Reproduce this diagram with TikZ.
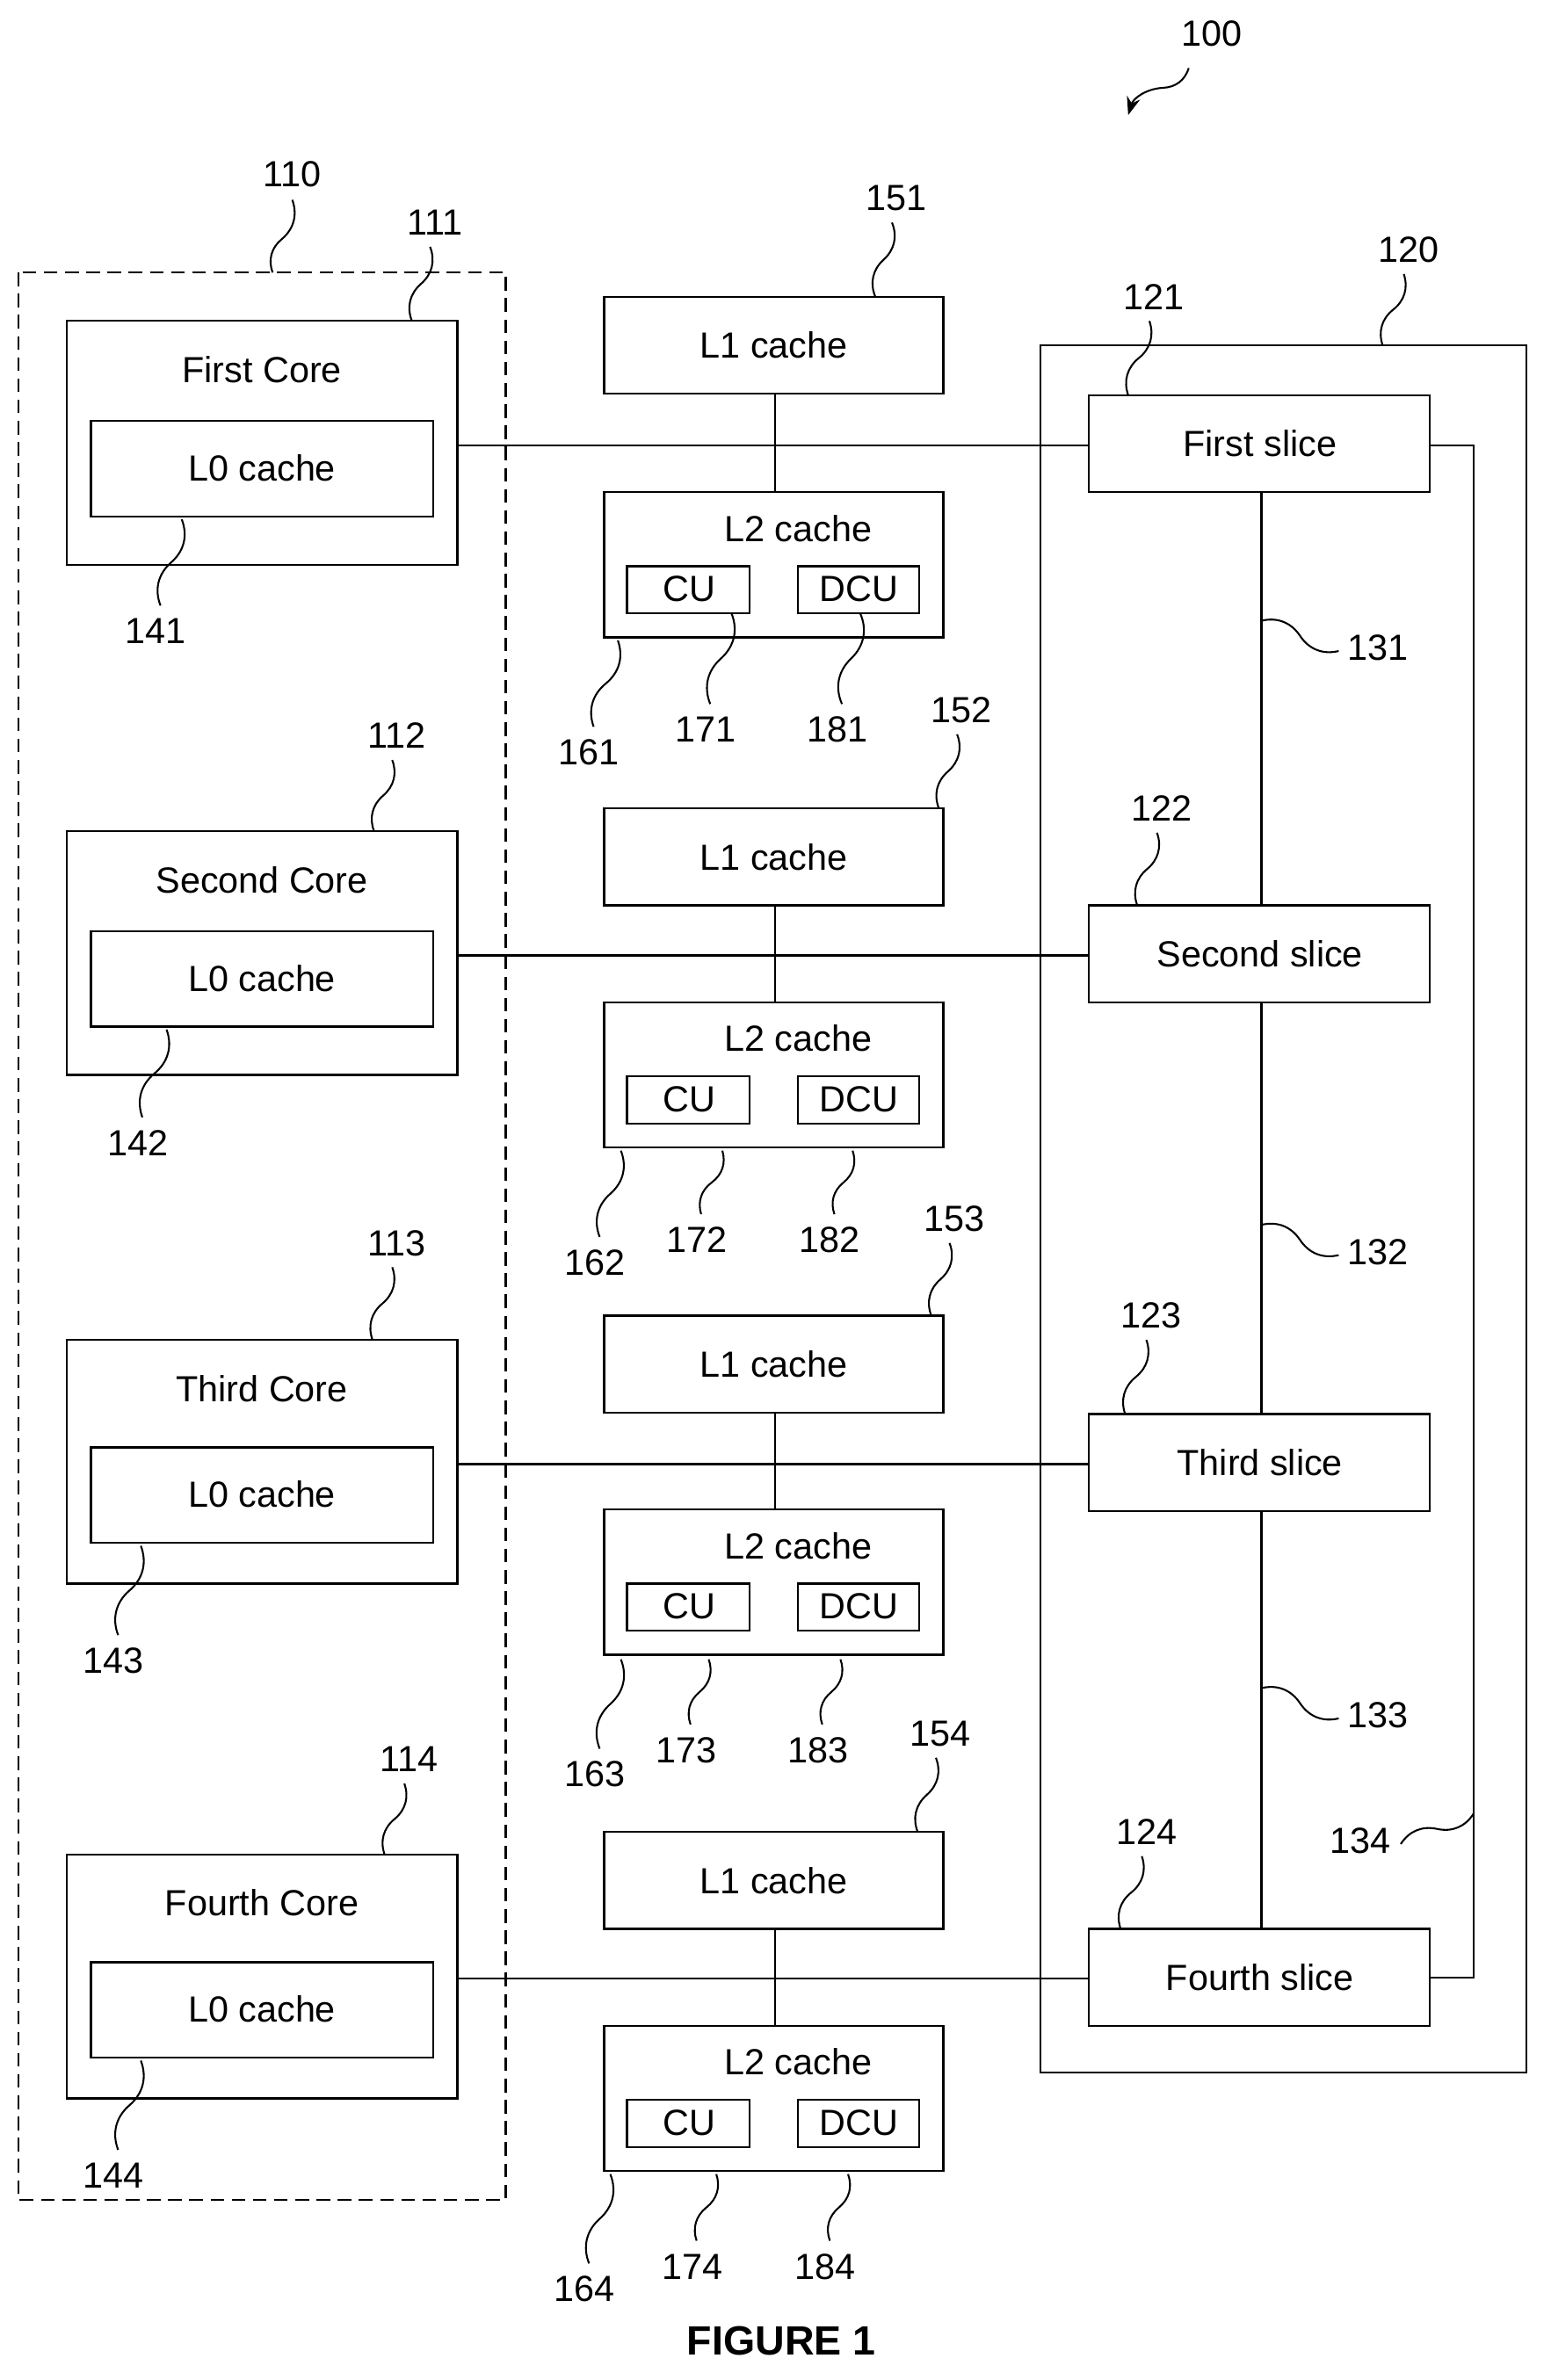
\documentclass[tikz,border=0pt]{standalone}
\usepackage{fontspec}
\setmainfont{Liberation Sans}
\usetikzlibrary{arrows.meta,calc}
\begin{document}
\begin{tikzpicture}[x=1pt,y=-1pt,line width=1.3pt,
  lbl/.style={font=\fontsize{24}{24}\selectfont},
  txt/.style={font=\fontsize{24}{24}\selectfont},
  ld/.style={line width=1.2pt}]
\useasboundingbox (0,0) rectangle (1024,1572);
\newcommand\lead[4]{\draw[ld] (#1,#2) to[bend left=35] ($(#1,#2)!0.5!(#3,#4)$) to[bend right=35] (#3,#4);}
\draw[dash pattern=on 9pt off 5pt] (12,180) rectangle (334,1453);
\node[lbl] (l110) at (193,115) {110};
\draw[ld] (180,180) to[bend left=35] (186,158) to[bend right=35] (193,132);
\draw (687,228) rectangle (1008,1369);
\foreach \i/\ct/\lt/\lo/\lb/\st/\name in
 {1/212/278/196/325/261/First,
  2/549/615/534/662/598/Second,
  3/885/956/869/997/934/Third,
  4/1225/1296/1210/1338/1274/Fourth}{
  \draw (44,\ct) rectangle (302,\ct+161);
  \node[txt] (ct\i) at (173,\ct+32) {\name\ Core};
  \draw (60,\lt) rectangle (286,\lt+63);
  \node[txt] (l0\i) at (173,\lt+31) {L0 cache};
  \draw (399,\lo) rectangle (623,\lo+64);
  \node[txt] (l1\i) at (511,\lo+32) {L1 cache};
  \draw (399,\lb) rectangle (623,\lb+96);
  \node[txt] (l2\i) at (527,\lb+24) {L2 cache};
  \draw (414,\lb+49) rectangle (495,\lb+80);
  \node[txt] (cu\i) at (455,\lb+64) {CU};
  \draw (527,\lb+49) rectangle (607,\lb+80);
  \node[txt] (dcu\i) at (567,\lb+64) {DCU};
  \draw (512,\lo+64) -- (512,\lb);
  \draw (719,\st) rectangle (944,\st+64);
  \node[txt] (sl\i) at (832,\st+32) {\name\ slice};
  \draw (302,\st+33) -- (719,\st+33);
}
\draw (833,325) -- (833,598);
\draw (833,662) -- (833,934);
\draw (833,998) -- (833,1274);
\draw (944,294) -- (973,294) -- (973,1306) -- (944,1306);
\node[lbl] at (800,22) {100};
\draw[ld,-{Stealth[length=12pt,width=9pt]}] (785,45) to[bend left=35] (768,58) to[bend right=35] (745,76);
\foreach \t/\x/\y/\ex/\ey in {111/287/147/272/212, 151/592/131/578/196, 120/930/165/913/228,
  121/762/196/745/261, 152/635/469/620/534, 112/262/486/247/549, 122/767/534/751/598,
  153/630/805/615/869, 113/262/821/246/885, 123/760/869/743/934,
  114/270/1162/254/1225, 154/621/1145/606/1210, 124/757/1210/740/1274}{
  \node[lbl] at (\x,\y) {\t};
  \lead{\x-3}{\y+16}{\ex}{\ey}
}
\foreach \t/\x/\y/\ex/\ey in {141/103/417/120/343, 161/389/497/408/423, 171/466/482/483/405, 181/553/482/568/405,
  142/91/755/110/680, 162/393/834/410/760, 172/460/819/477/760, 182/548/819/563/760,
  143/75/1097/93/1021, 163/393/1172/410/1096, 173/453/1156/468/1096, 183/540/1156/555/1096,
  144/75/1437/93/1361, 164/386/1512/403/1436, 174/457/1497/473/1436, 184/545/1497/560/1436}{
  \node[lbl] at (\x,\y) {\t};
  \lead{\ex}{\ey}{\x+3}{\y-17}
}
\foreach \t/\y in {131/428,132/827,133/1133}{
  \node[lbl] at (910,\y) {\t};
  \lead{833}{\y-18}{884}{\y+2}
}
\node[lbl] at (898,1216) {134};
\lead{925}{1218}{973}{1198}
\node[font=\bfseries\fontsize{27}{27}\selectfont] at (516,1546) {FIGURE 1};
\end{tikzpicture}
\end{document}
